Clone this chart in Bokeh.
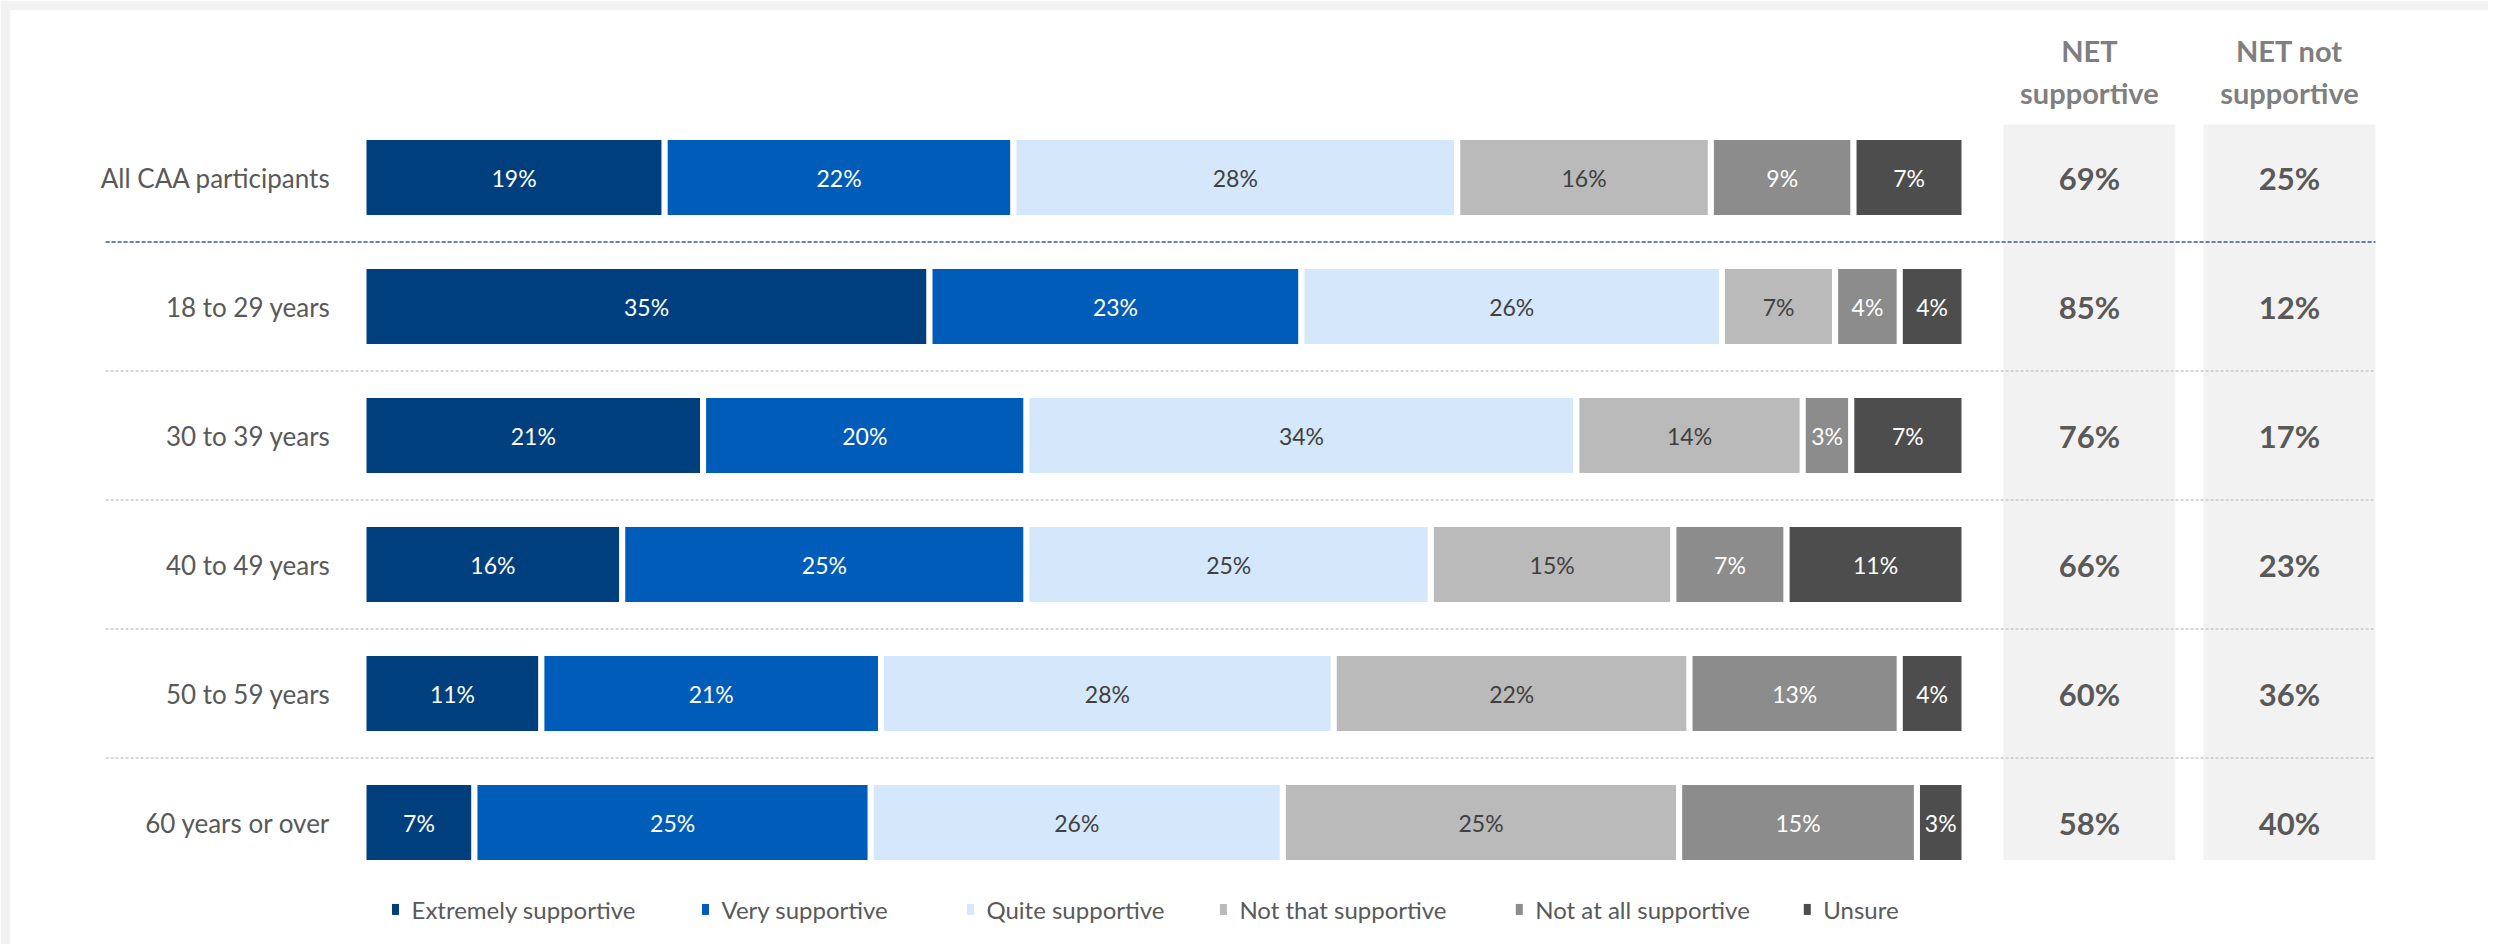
from bokeh.plotting import figure
from bokeh.models import Range1d, ColumnDataSource
from bokeh.core.properties import value
from bokeh.embed import file_html
from bokeh.resources import INLINE

# ---------------- data ----------------
categories = ["All CAA participants", "18 to 29 years", "30 to 39 years",
              "40 to 49 years", "50 to 59 years", "60 years or over"]
series = ["Extremely supportive", "Very supportive", "Quite supportive",
          "Not that supportive", "Not at all supportive", "Unsure"]
extremely = [19, 35, 21, 16, 11, 7]
very = [22, 23, 20, 25, 21, 25]
quite = [28, 26, 34, 25, 28, 26]
not_that = [16, 7, 14, 15, 22, 25]
not_at_all = [9, 4, 3, 7, 13, 15]
unsure = [7, 4, 7, 11, 4, 3]
net_supportive = [69, 85, 76, 66, 60, 58]
net_not_supportive = [25, 12, 17, 23, 36, 40]
net_headers = ["NET\nsupportive", "NET not\nsupportive"]

# ---------------- style ----------------
colors = ["#003F7D", "#005CB9", "#D5E8FB", "#BABABA", "#8C8C8C", "#4D4D4D"]
label_colors = ["white", "white", "#404040", "#404040", "white", "white"]
FONT = "Lato"
W, H = 2488, 944
BORDER = 10
X0_PX, PX_PER_X = 363.0, 16.01
Y0_PX, PX_PER_Y = 177.0, 129.0

xs = -(X0_PX - BORDER) / PX_PER_X
ys = -(Y0_PX - BORDER) / PX_PER_Y
p = figure(width=W, height=H, output_backend="svg", toolbar_location=None,
           x_range=Range1d(xs, xs + (W - BORDER) / PX_PER_X),
           y_range=Range1d(ys + (H - BORDER) / PX_PER_Y, ys),
           min_border=0, min_border_left=BORDER, min_border_top=BORDER,
           outline_line_color=None)
p.xaxis.visible = False
p.yaxis.visible = False
p.grid.visible = False
p.background_fill_color = "white"
p.border_fill_color = "#F2F2F2"

rows = list(range(len(categories)))
all_series = [extremely, very, quite, not_that, not_at_all, unsure]
totals = [sum(s[i] for s in all_series) for i in rows]

# NET background boxes
net_cols_x = [107.8, 120.3]
net_box_w = 10.74
for cx in net_cols_x:
    p.quad(left=cx - net_box_w / 2, right=cx + net_box_w / 2, top=-0.41, bottom=5.29,
           fill_color="#F2F2F2", line_color=None)

# separators
sep_left, sep_right = -16.11, 125.67
for i in rows[:-1]:
    first = i == 0
    p.segment(x0=sep_left, x1=sep_right, y0=i + 0.5, y1=i + 0.5,
              line_color="#2E5C99" if first else "#C8C8C8",
              line_width=1.6 if first else 1.3,
              line_dash="4 2" if first else "3 2")

# stacked bars (normalized to 100 per row)
cum = [0.0] * len(rows)
for k, s in enumerate(all_series):
    left = [cum[i] for i in rows]
    right = [cum[i] + 100.0 * s[i] / totals[i] for i in rows]
    src = ColumnDataSource(dict(y=rows, left=left, right=right,
                                mid=[(l + r) / 2 for l, r in zip(left, right)],
                                lab=[f"{v}%" for v in s]))
    p.hbar(y="y", left="left", right="right", height=0.628, source=src,
           fill_color=colors[k], line_color="white", line_width=6)
    p.text(x="mid", y="y", text="lab", source=src, text_align="center",
           text_baseline="middle", text_color=label_colors[k],
           text_font=value(FONT), text_font_size="23px")
    cum = right

# category labels
p.text(x=[-2.06] * len(rows), y=rows, text=categories, text_align="right",
       text_baseline="middle", text_color="#595959", text_font=value(FONT),
       text_font_size="26px")

# NET values
for cx, vals in zip(net_cols_x, [net_supportive, net_not_supportive]):
    p.text(x=[cx] * len(rows), y=rows, text=[f"{v}%" for v in vals],
           text_align="center", text_baseline="middle", text_color="#595959",
           text_font=value(FONT), text_font_size="31px", text_font_style="bold")

# NET headers
p.text(x=net_cols_x, y=[-0.82, -0.82], text=net_headers, text_align="center",
       text_baseline="middle", text_color="#7F7F7F", text_font=value(FONT),
       text_font_size="29px", text_font_style="bold", text_line_height=1.2)

# legend
legend_x = [2.0, 21.36, 37.91, 53.71, 72.19, 90.18]
legend_y = 5.674
p.rect(x=legend_x, y=[legend_y] * 6, width=7, height=11, width_units="screen",
       height_units="screen", fill_color=colors, line_color=None)
p.text(x=[lx + 1.0 for lx in legend_x], y=[legend_y] * 6, text=series,
       text_align="left", text_baseline="middle", text_color="#595959",
       text_font=value(FONT), text_font_size="24px")

open("out.html", "w").write(file_html(p, INLINE))
